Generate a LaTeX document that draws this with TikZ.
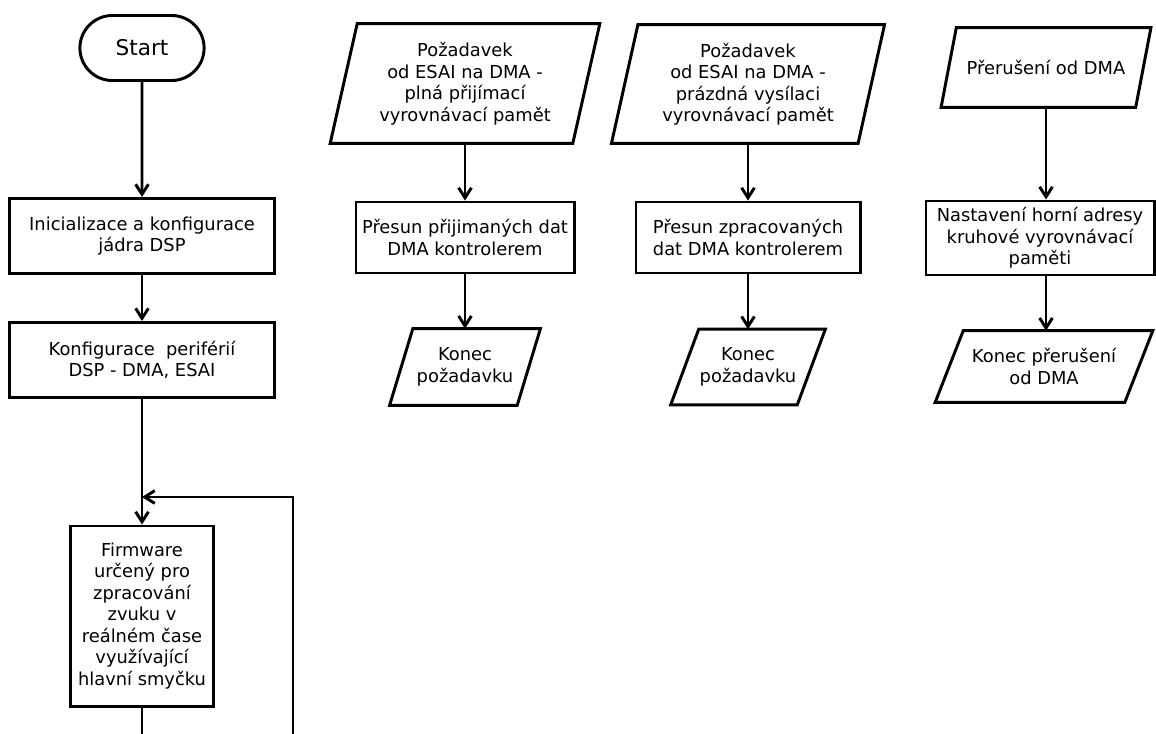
\documentclass[tikz,border=0pt]{standalone}
\usepackage{fontspec}
\setmainfont{DejaVu Sans}
\usetikzlibrary{shapes.misc,arrows.meta}

\tikzset{
  box/.style={align=center, inner sep=1pt, font=\fontsize{12.7}{15.3}\selectfont},
  plain/.style={draw, line width=2.1pt},
  proc/.style={box, plain, rectangle},
  term/.style={box, plain, rounded rectangle, font=\fontsize{15.4}{18}\selectfont},
  % paralelogram: text v obdelniku, obrys se sikmymi boky
  io/.style={box, rectangle, append after command={\pgfextra{
    \draw [plain, line join=miter] ([xshift=#1]\tikzlastnode.north west) -- ([xshift=#1]\tikzlastnode.north east)
      -- ([xshift=-#1]\tikzlastnode.south east) -- ([xshift=-#1]\tikzlastnode.south west) -- cycle;}}},
  line/.style={plain, -{Straight Barb[length=2.5mm,width=3.2mm]}}
}

\begin{document}
\begin{tikzpicture}[x=0.025cm,y=-0.025cm]
\useasboundingbox (0,0) rectangle (1156,733);

% hlavni program
\node [term, minimum width=3.175cm, minimum height=1.625cm] (start) at (142,48) {Start};
\node [proc, minimum width=6.625cm, minimum height=1.875cm] (init) at (142,236) {Inicializace a konfigurace\\jádra DSP};
\node [proc, minimum width=6.625cm, minimum height=1.875cm] (periph) at (142,360) {Konfigurace\ \ periférií\\DSP - DMA, ESAI};
\node [proc, minimum width=3.575cm, minimum height=4.5cm] (fw) at (142,616) {Firmware\\určený pro\\zpracování\\zvuku v\\reálném čase\\využívající\\hlavní smyčku};
\coordinate (join) at (142,497);
\coordinate (cutl) at (142,740);
\coordinate (cutr) at (293,740);

% pozadavek - prijem
\node [io=0.3375cm, minimum width=6.05cm, minimum height=2.975cm] (reqrx) at (465,83.5) {Požadavek\\od ESAI na DMA -\\plná přijímací\\vyrovnávací pamět};
\node [proc, minimum width=5.45cm, minimum height=1.775cm] (movrx) at (465,237.5) {Přesun přijimaných dat\\DMA kontrolerem};
\node [io=0.29cm, minimum width=3.175cm, minimum height=1.9cm] (endrx) at (465,367) {Konec\\požadavku};

% pozadavek - vysilani
\node [io=0.33cm, minimum width=6.15cm, minimum height=2.95cm] (reqtx) at (748,84) {Požadavek\\od ESAI na DMA -\\prázdná vysílaci\\vyrovnávací pamět};
\node [proc, minimum width=5.6cm, minimum height=1.775cm] (movtx) at (748,237.5) {Přesun zpracovaných\\dat DMA kontrolerem};
\node [io=0.35cm, minimum width=3.15cm, minimum height=1.875cm] (endtx) at (748,367) {Konec\\požadavku};

% preruseni od DMA
\node [io=0.19cm, minimum width=4.85cm, minimum height=1.975cm] (irq) at (1046,67.5) {Přerušení od DMA};
\node [proc, minimum width=5.7cm, minimum height=1.85cm] (addr) at (1040,238) {Nastavení horní adresy\\kruhové vyrovnávací\\paměti};
\node [io=0.35cm, minimum width=4.725cm, minimum height=1.775cm] (endirq) at (1044,366.5) {Konec přerušení\\od DMA};

\draw [line] (start) -- (init);
\draw [line] (init) -- (periph);
\draw [line] (periph) -- (fw);
\draw [plain] (fw) -- (cutl);
\draw [line] (cutr) |- (join);
\draw [line] (reqrx) -- (movrx);
\draw [line] (movrx) -- (endrx);
\draw [line] (reqtx) -- (movtx);
\draw [line] (movtx) -- (endtx);
\draw [line] (irq) -- (irq |- addr.north);
\draw [line] (addr.south -| irq) -- (endirq.north -| irq);
\end{tikzpicture}
\end{document}
